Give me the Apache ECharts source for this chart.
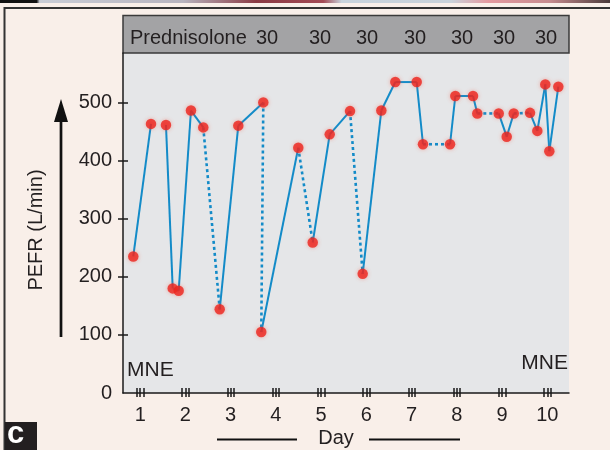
<!DOCTYPE html>
<html><head><meta charset="utf-8">
<script src="https://cdn.jsdelivr.net/npm/echarts@6/dist/echarts.min.js"></script>
<style>html,body{margin:0;padding:0;background:#f9efe9;}#c{width:610px;height:450px;}</style>
</head><body><div id="c"></div>
<script>
// ---- data ----
const dayValues = [0.847, 1.239, 1.570, 1.719, 1.851, 2.123, 2.395, 2.758, 3.169, 3.722, 3.677, 4.495, 4.814, 5.190, 5.639, 5.919, 6.331, 6.640, 7.113, 7.252, 7.850, 7.967, 8.358, 8.453, 8.926, 9.103, 9.258, 9.618, 9.780, 9.956, 10.045, 10.244];
const pefrValues = [235, 463, 461, 180, 176, 486, 457, 144, 460, 500, 105, 422, 259, 445, 485, 205, 486, 535, 535, 428, 428, 511, 511, 481, 481, 441, 481, 482, 451, 531, 416, 527];
// link between point i and i+1: s = solid, d = dotted, n = none
const linkStyles = ['s','n','s','s','s','s','d','s','s','d','s','d','s','s','d','s','s','s','s','d','s','s','s','d','s','s','d','s','s','s','s'];
const dayTicks = [1, 2, 3, 4, 5, 6, 7, 8, 9, 10];
const yTickLabels = [0, 100, 200, 300, 400, 500];
const yTickMarks = [100, 200, 300, 400, 500];
const doseLabels = ['30', '30', '30', '30', '30', '30', '30'];
const bannerTitle = 'Prednisolone';
const yAxisTitle = 'PEFR (L/min)';
const xAxisTitle = 'Day';
const periodLabel = 'MNE';
const panelLetter = 'c';

// ---- layout / style ----
const FONT = '"Liberation Sans", Arial, sans-serif';
const TXT = '#231f20';
const LINE_BLUE = '#138bc8';
const DOT_RED = '#ec231d';
const doseCentersX = [267, 320, 367, 415, 462, 504, 546];
const tickSpread = 0.072;
const tripleTicks = [];
dayTicks.forEach(d => { tripleTicks.push(d - tickSpread, d, d + tickSpread); });

const X_MIN = 0.62, X_MAX = 10.48, Y_MAX = 585;

const chart = echarts.init(document.getElementById('c'), null, {renderer: 'canvas'});

const series = [];
linkStyles.forEach((st, i) => {
  if (st === 'n') return;
  series.push({
    type: 'line', silent: true, animation: false, z: 2,
    showSymbol: false, symbol: 'none',
    data: [[dayValues[i], pefrValues[i]], [dayValues[i + 1], pefrValues[i + 1]]],
    lineStyle: {color: LINE_BLUE, width: st === 's' ? 2 : 2.6, type: st === 's' ? 'solid' : [3, 3]}
  });
});
series.push({
  type: 'scatter', silent: true, animation: false, z: 3,
  symbolSize: 10.5,
  data: dayValues.map((d, i) => [d, pefrValues[i]]),
  itemStyle: {color: DOT_RED, shadowBlur: 4, shadowColor: 'rgba(240,90,70,0.55)'}
});

const labelStyle = {fontFamily: FONT, fontSize: 20, color: TXT};

const graphics = [
  // top image strip remnant
  {type: 'rect', shape: {x: 0, y: 0, width: 610, height: 3}, silent: true,
   style: {fill: new echarts.graphic.LinearGradient(0, 0, 1, 0, [
     {offset: 0, color: '#111'}, {offset: 0.06, color: '#111'}, {offset: 0.065, color: '#c9cdd6'},
     {offset: 0.3, color: '#b7b4bf'}, {offset: 0.42, color: '#8a3a44'}, {offset: 0.53, color: '#a34a55'},
     {offset: 0.56, color: '#c8d3dc'}, {offset: 0.74, color: '#c9d2da'}, {offset: 0.8, color: '#e39aa0'},
     {offset: 0.9, color: '#c78c90'}, {offset: 1, color: '#4a3a3a'}])}},
  // frame
  {type: 'polyline', shape: {points: [[4.5, 450], [4.5, 8], [610, 8]]}, silent: true,
   style: {stroke: '#333', lineWidth: 2, fill: null}},
  // banner
  {type: 'rect', shape: {x: 123, y: 15.5, width: 446, height: 37.5}, silent: true,
   style: {fill: '#a3a3a5', stroke: '#3a3a3a', lineWidth: 1.5}},
  {type: 'text', x: 130, y: 38, silent: true,
   style: {text: bannerTitle, font: '20px ' + FONT, fill: TXT, textVerticalAlign: 'middle', textAlign: 'left'}},
  // y title
  {type: 'text', x: 36, y: 230, rotation: Math.PI / 2, silent: true,
   style: {text: yAxisTitle, font: '20px ' + FONT, fill: TXT, textAlign: 'center', textVerticalAlign: 'middle'}},
  // arrow
  {type: 'line', shape: {x1: 61, y1: 337, x2: 61, y2: 118}, silent: true,
   style: {stroke: '#111', lineWidth: 2.7}},
  {type: 'polygon', shape: {points: [[61, 99], [54, 122], [68, 122]]}, silent: true,
   style: {fill: '#111'}},
  // x title with lines
  {type: 'text', x: 336, y: 438, silent: true,
   style: {text: xAxisTitle, font: '20px ' + FONT, fill: TXT, textAlign: 'center', textVerticalAlign: 'middle'}},
  {type: 'line', shape: {x1: 217, y1: 439.5, x2: 297, y2: 439.5}, silent: true, style: {stroke: '#111', lineWidth: 2}},
  {type: 'line', shape: {x1: 369, y1: 439.5, x2: 460, y2: 439.5}, silent: true, style: {stroke: '#111', lineWidth: 2}},
  // MNE labels
  {type: 'text', x: 127, y: 370, silent: true,
   style: {text: periodLabel, font: '21px ' + FONT, fill: TXT, textAlign: 'left', textVerticalAlign: 'middle'}},
  {type: 'text', x: 568, y: 363, silent: true,
   style: {text: periodLabel, font: '21px ' + FONT, fill: TXT, textAlign: 'right', textVerticalAlign: 'middle'}},
  // panel letter
  {type: 'rect', shape: {x: 5, y: 422, width: 32, height: 28}, silent: true, style: {fill: '#231f20'}},
  {type: 'text', x: 7, y: 450, silent: true,
   style: {text: panelLetter, font: 'bold 31px ' + FONT, fill: '#ffffff', textAlign: 'left', textVerticalAlign: 'bottom'}}
];
doseLabels.forEach((t, i) => {
  graphics.push({type: 'text', x: doseCentersX[i], y: 38, silent: true,
    style: {text: t, font: '20px ' + FONT, fill: TXT, textAlign: 'center', textVerticalAlign: 'middle'}});
});

chart.setOption({
  animation: false,
  backgroundColor: '#f9efe9',
  grid: {left: 123, right: 41, top: 53, bottom: 57, show: true, backgroundColor: '#e5e6e8', borderWidth: 0},
  xAxis: [
    {type: 'value', min: X_MIN, max: X_MAX, position: 'bottom',
     axisLine: {show: true, onZero: false, lineStyle: {color: '#1a1a1a', width: 1.5}},
     axisTick: {show: true, customValues: tripleTicks, inside: false, length: 4, lineStyle: {color: '#1a1a1a', width: 1.5}},
     axisLabel: {customValues: dayTicks, margin: 12, ...labelStyle},
     splitLine: {show: false}},
    {type: 'value', min: X_MIN, max: X_MAX, position: 'bottom',
     axisLine: {show: false},
     axisTick: {show: true, customValues: tripleTicks, inside: true, length: 5, lineStyle: {color: '#1a1a1a', width: 1.5}},
     axisLabel: {show: false}, splitLine: {show: false}}
  ],
  yAxis: [
    {type: 'value', min: 0, max: Y_MAX, position: 'left',
     axisLine: {show: true, onZero: false, lineStyle: {color: '#1a1a1a', width: 1.5}},
     axisTick: {show: true, customValues: yTickMarks, inside: false, length: 5, lineStyle: {color: '#1a1a1a', width: 1.5}},
     axisLabel: {customValues: yTickLabels, margin: 11, ...labelStyle},
     splitLine: {show: false}},
    {type: 'value', min: 0, max: Y_MAX, position: 'left',
     axisLine: {show: false},
     axisTick: {show: true, customValues: yTickMarks, inside: true, length: 5, lineStyle: {color: '#1a1a1a', width: 1.5}},
     axisLabel: {show: false}, splitLine: {show: false}}
  ],
  series: series,
  graphic: graphics
});
</script>
</body></html>
